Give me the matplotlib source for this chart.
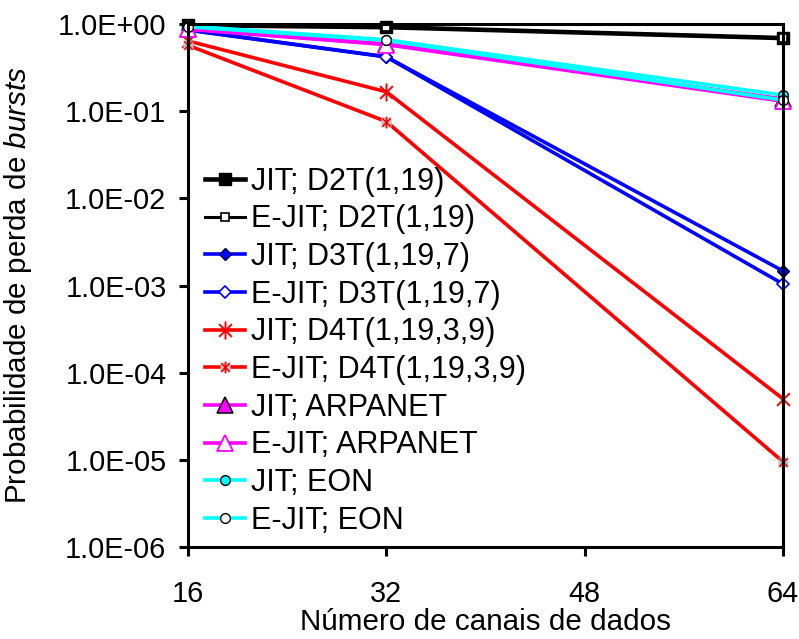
import matplotlib
matplotlib.use("Agg")
import matplotlib.pyplot as plt
from matplotlib.path import Path
from matplotlib.ticker import FixedLocator, NullLocator, FuncFormatter
from matplotlib.legend_handler import HandlerTuple

plt.rcParams['font.family'] = ['Liberation Sans', 'DejaVu Sans']
plt.rcParams['mathtext.fontset'] = 'custom'
plt.rcParams['mathtext.rm'] = 'Liberation Sans'
plt.rcParams['mathtext.it'] = 'Liberation Sans:italic'

# Número de canais de dados
canais = [16, 32, 64]

# Probabilidade de perda de bursts por topologia
jit_d2t = [0.97, 0.92, 0.69]
ejit_d2t = [0.97, 0.92, 0.69]
jit_d3t = [0.86, 0.42, 1.47e-3]
ejit_d3t = [0.85, 0.42, 1.04e-3]
jit_d4t = [0.64, 0.167, 5.0e-5]
ejit_d4t = [0.57, 0.076, 9.5e-6]
jit_arpanet = [0.88, 0.59, 0.138]
ejit_arpanet = [0.87, 0.58, 0.13]
jit_eon = [0.95, 0.66, 0.153]
ejit_eon = [0.93, 0.65, 0.134]

rotulos = ['JIT; D2T(1,19)', 'E-JIT; D2T(1,19)',
           'JIT; D3T(1,19,7)', 'E-JIT; D3T(1,19,7)',
           'JIT; D4T(1,19,3,9)', 'E-JIT; D4T(1,19,3,9)',
           'JIT; ARPANET', 'E-JIT; ARPANET',
           'JIT; EON', 'E-JIT; EON']

y_ticks = [1e0, 1e-1, 1e-2, 1e-3, 1e-4, 1e-5, 1e-6]
x_ticks = [16, 32, 48, 64]

# asterisco de 6 pontas (vertical + X)
d = 0.7071
asterisco = Path([(0, -1), (0, 1), (-d, -d), (d, d), (-d, d), (d, -d)],
                 [Path.MOVETO, Path.LINETO, Path.MOVETO, Path.LINETO,
                  Path.MOVETO, Path.LINETO])

fig = plt.figure(figsize=(7.99, 6.39), dpi=100)
ax = fig.add_axes([0.2353, 0.144, 0.7447, 0.8184])

lw = 2.6
handles = []

h, = ax.plot(canais, jit_d2t, color='black', lw=3.3, marker='s', ms=8,
             mfc='black', mec='black', clip_on=False)
handles.append(h)
h, = ax.plot(canais, ejit_d2t, color='black', lw=2.2, marker='s', ms=6,
             mfc='white', mec='black', mew=1.2, clip_on=False)
handles.append(h)
h, = ax.plot(canais, jit_d3t, color='blue', lw=lw, marker='D', ms=6,
             mfc='blue', mec='#000040', mew=1.0, clip_on=False)
handles.append(h)
h, = ax.plot(canais, ejit_d3t, color='blue', lw=lw, marker='D', ms=6,
             mfc='white', mec='blue', mew=1.2, clip_on=False)
handles.append(h)
h, = ax.plot(canais, jit_d4t, color='red', lw=lw, marker=asterisco, ms=13,
             mfc='none', mec='red', mew=1.4, clip_on=False)
handles.append(h)
h1, = ax.plot(canais, ejit_d4t, color='red', lw=lw, marker='s', ms=7,
              mfc='#C0C0C0', mec='none', clip_on=False)
h2, = ax.plot(canais, ejit_d4t, ls='none', marker=asterisco, ms=8.5,
              mfc='none', mec='red', mew=1.1, clip_on=False)
handles.append((h1, h2))
h, = ax.plot(canais, jit_arpanet, color='magenta', lw=lw, marker='^', ms=11.5,
             mfc='magenta', mec='black', mew=1.1, clip_on=False)
handles.append(h)
h, = ax.plot(canais, ejit_arpanet, color='magenta', lw=lw, marker='^', ms=11.5,
             mfc='white', mec='magenta', mew=1.3, clip_on=False)
handles.append(h)
h, = ax.plot(canais, jit_eon, color='cyan', lw=lw, marker='o', ms=7,
             mfc='cyan', mec='black', mew=1.0, clip_on=False)
handles.append(h)
h, = ax.plot(canais, ejit_eon, color='cyan', lw=lw, marker='o', ms=7,
             mfc='white', mec='black', mew=1.0, clip_on=False)
handles.append(h)

ax.set_yscale('log')
ax.set_ylim(1e-6, 1e0)
ax.set_xlim(16, 64)
ax.yaxis.set_major_locator(FixedLocator(y_ticks))
ax.yaxis.set_minor_locator(NullLocator())
ax.yaxis.set_major_formatter(FuncFormatter(lambda v, p: f"{v:.1E}"))
ax.set_xticks(x_ticks)

for s in ax.spines.values():
    s.set_linewidth(2.2)
ax.tick_params(axis='both', direction='out', length=6.5, width=2.2,
               labelsize=20.8)
ax.tick_params(axis='x', pad=17)
ax.tick_params(axis='y', pad=9)

ax.set_xlabel('Número de canais de dados', fontsize=21.3, labelpad=0)
ax.set_ylabel(r'Probabilidade de perda de $\it{bursts}$', fontsize=21.3,
              labelpad=17)

ax.legend(handles, rotulos, loc='upper left', bbox_to_anchor=(0.0286, 0.727),
          frameon=False, fontsize=22, borderaxespad=0, borderpad=0,
          handlelength=1.31, handletextpad=0.2, labelspacing=0.25,
          numpoints=1, handler_map={tuple: HandlerTuple(ndivide=1)})

fig.savefig('out.png', dpi=100)
